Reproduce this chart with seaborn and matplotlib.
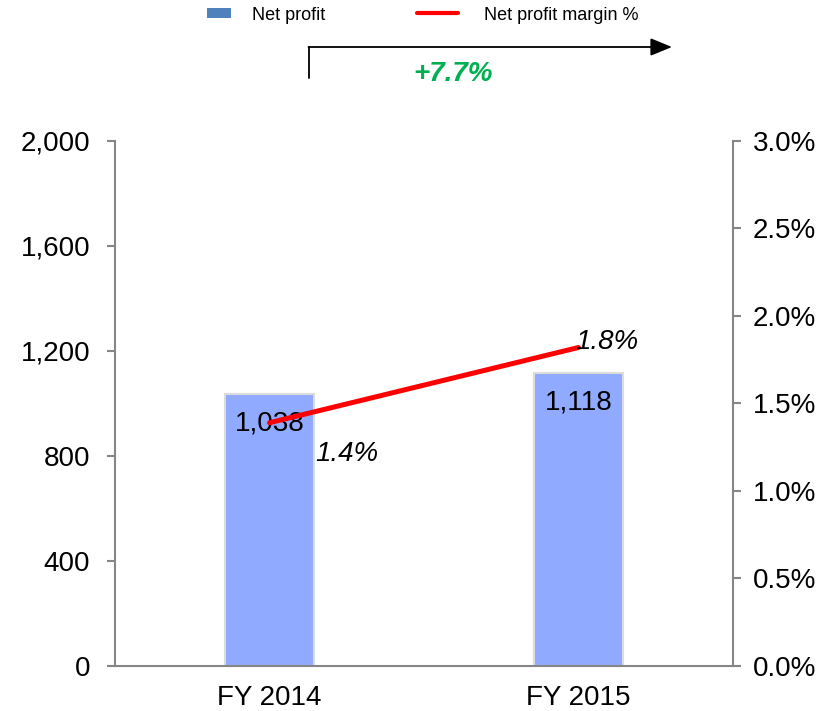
import matplotlib
matplotlib.use("Agg")
import matplotlib.pyplot as plt
import seaborn as sns
import pandas as pd
from matplotlib.patches import Patch
from matplotlib.lines import Line2D
from matplotlib.ticker import FuncFormatter

# data
years = ["FY 2014", "FY 2015"]
net_profit = [1038, 1118]
margin_pct = [1.39, 1.82]
margin_labels = ["1.4%", "1.8%"]
growth_label = "+7.7%"

df = pd.DataFrame({"year": years, "profit": net_profit, "margin": margin_pct})

sns.set_theme(style="white")
plt.rcParams["font.family"] = ["Liberation Sans", "DejaVu Sans"]
plt.rcParams["text.color"] = "black"

grey = "#868686"
fig = plt.figure(figsize=(8.37, 7.11), dpi=100)
ax = fig.add_axes([0.1374, 0.0633, 0.7383, 0.7384])

sns.barplot(data=df, x="year", y="profit", color="#8FAAFF", width=0.286,
            edgecolor="#DCDCDC", linewidth=1.5, saturation=1, ax=ax)
ax.set_xlim(-0.5, 1.5)
ax.set_ylim(0, 2000)
ax.set_yticks([0, 400, 800, 1200, 1600, 2000])
ax.yaxis.set_major_formatter(FuncFormatter(lambda v, p: f"{v:,.0f}"))
ax.set_xlabel("")
ax.set_ylabel("")
for s in ["top", "right"]:
    ax.spines[s].set_visible(False)
for s in ["left", "bottom"]:
    ax.spines[s].set_color(grey)
    ax.spines[s].set_linewidth(1.5)
ax.tick_params(axis="y", left=True, length=6, width=1.5, color=grey,
               labelsize=20, pad=12, labelcolor="black")
ax.tick_params(axis="x", bottom=False, labelsize=20, pad=8, labelcolor="black")

for i, v in enumerate(net_profit):
    ax.annotate(f"{v:,}", (i, v), xytext=(0, -30), textcoords="offset pixels",
                ha="center", va="center", fontsize=20, color="black")

ax2 = ax.twinx()
sns.lineplot(data=df, x="year", y="margin", color="#FF0000", linewidth=3.6,
             ax=ax2, legend=False)
ax2.set_ylim(0, 3.0)
ax2.set_yticks([0, 0.5, 1.0, 1.5, 2.0, 2.5, 3.0])
ax2.yaxis.set_major_formatter(FuncFormatter(lambda v, p: f"{v:.1f}%"))
ax2.set_ylabel("")
for s in ["top", "left", "bottom"]:
    ax2.spines[s].set_visible(False)
ax2.spines["right"].set_color(grey)
ax2.spines["right"].set_linewidth(1.5)
ax2.tick_params(axis="y", right=True, length=6, width=1.5, color=grey,
                labelsize=20, pad=8, labelcolor="black")

offsets = [(46, -31), (-3, 5)]
for i, (v, lab) in enumerate(zip(margin_pct, margin_labels)):
    dx, dy = offsets[i]
    ax2.annotate(lab, (i, v), xytext=(dx, dy), textcoords="offset pixels",
                 ha="left", va="center", fontsize=20, style="italic", color="black")

# growth arrow above the chart
fig.add_artist(Line2D([309 / 837, 309 / 837], [1 - 78 / 711, 1 - 47 / 711],
                      color="black", linewidth=1.3, transform=fig.transFigure))
ax.annotate("", xy=(672 / 837, 1 - 47 / 711), xytext=(308.5 / 837, 1 - 47 / 711),
            xycoords="figure fraction", textcoords="figure fraction",
            arrowprops=dict(arrowstyle="-|>,head_length=1.1,head_width=0.45",
                            color="black", linewidth=1.3, shrinkA=0, shrinkB=0))
fig.text(453 / 837, 1 - 74 / 711, growth_label, color="#00B050", fontsize=20,
         fontweight="bold", style="italic", ha="center", va="center")

# two legend entries, each with its own handle length
leg1 = fig.legend([Patch(facecolor="#4F81BD", edgecolor="none")], ["Net profit"],
                  loc="center left", bbox_to_anchor=(191 / 837, 1 - 15 / 711),
                  frameon=False, fontsize=13, handlelength=1.33, handleheight=0.45,
                  handletextpad=1.15)
leg2 = fig.legend([Line2D([0], [0], color="#FF0000", linewidth=3)],
                  ["Net profit margin %"],
                  loc="center left", bbox_to_anchor=(401 / 837, 1 - 15 / 711),
                  frameon=False, fontsize=13, handlelength=2.28,
                  handletextpad=1.4)

fig.savefig("out.png", dpi=100)
